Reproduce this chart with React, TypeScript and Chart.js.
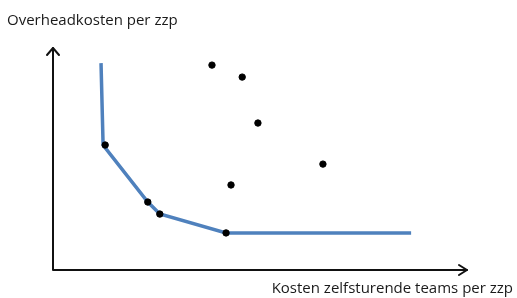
import React, { useEffect, useRef } from "react";
import { Chart, registerables } from "chart.js";

Chart.register(...registerables);

// Frontier (blue line) in cost units (0..100 on both axes)
const frontierX = [11.6, 12.1, 22.9, 25.8, 41.8, 86.5];
const frontierY = [93.2, 56.3, 30.6, 25.2, 16.7, 16.7];

// Efficient observations on the frontier
const efficientX = [12.6, 22.9, 25.8, 41.8];
const efficientY = [56.3, 30.6, 25.2, 16.7];

// Inefficient observations
const otherX = [38.4, 45.7, 49.5, 65.2, 43.0];
const otherY = [92.3, 86.9, 66.2, 47.7, 38.3];

const yAxisTitle = "Overheadkosten per zzp";
const xAxisTitle = "Kosten zelfsturende teams per zzp";

const toPoints = (xs: number[], ys: number[]) => xs.map((x, i) => ({ x, y: ys[i] }));

const arrowAxes = {
  id: "arrowAxes",
  afterDatasetsDraw(chart: any) {
    const { ctx, scales } = chart;
    const x0 = scales.x.getPixelForValue(0);
    const y0 = scales.y.getPixelForValue(0);
    const xTip = scales.x.getPixelForValue(100);
    const yTip = scales.y.getPixelForValue(100);
    ctx.save();
    ctx.strokeStyle = "#111";
    ctx.lineWidth = 2;
    ctx.lineCap = "round";
    ctx.lineJoin = "round";
    ctx.beginPath();
    ctx.moveTo(x0, yTip);
    ctx.lineTo(x0, y0);
    ctx.lineTo(xTip, y0);
    ctx.stroke();
    // y arrow head
    ctx.beginPath();
    ctx.moveTo(x0 - 6, yTip + 7);
    ctx.lineTo(x0, yTip);
    ctx.lineTo(x0 + 6, yTip + 7);
    ctx.stroke();
    // x arrow head
    ctx.beginPath();
    ctx.moveTo(xTip - 8, y0 - 5);
    ctx.lineTo(xTip, y0);
    ctx.lineTo(xTip - 8, y0 + 5);
    ctx.stroke();
    ctx.restore();
  },
};

export default function App() {
  const ref = useRef<HTMLCanvasElement | null>(null);
  useEffect(() => {
    if (!ref.current) return;
    const chart = new Chart(ref.current, {
      type: "scatter",
      data: {
        datasets: [
          {
            type: "line",
            data: toPoints(frontierX, frontierY),
            borderColor: "#4f81bd",
            borderWidth: 3.5,
            pointRadius: 0,
            tension: 0,
            fill: false,
            clip: false,
            order: 2,
          } as any,
          {
            data: toPoints(efficientX, efficientY),
            backgroundColor: "#000",
            borderColor: "#000",
            pointRadius: 3.2,
            clip: false,
            order: 1,
          } as any,
          {
            data: toPoints(otherX, otherY),
            backgroundColor: "#000",
            borderColor: "#000",
            pointRadius: 3.2,
            clip: false,
            order: 1,
          } as any,
        ],
      },
      options: {
        responsive: false,
        animation: false,
        layout: { padding: { left: 53, right: 50, top: 48, bottom: 28 } },
        plugins: { legend: { display: false }, tooltip: { enabled: false } },
        scales: {
          x: { type: "linear", min: 0, max: 100, display: false },
          y: { type: "linear", min: 0, max: 100, display: false },
        },
      },
      plugins: [arrowAxes],
    });
    return () => chart.destroy();
  }, []);

  const font = "'Open Sans', sans-serif";
  return (
    <div style={{ position: "fixed", left: 0, top: 0, width: 517, height: 298, background: "#fff" }}>
      <canvas ref={ref} width={517} height={298} style={{ position: "absolute", left: 0, top: 0 }} />
      <div style={{ position: "absolute", left: 7, top: 9, fontFamily: font, fontSize: 15, color: "#1a1a1a", whiteSpace: "nowrap", lineHeight: "20px" }}>
        {yAxisTitle}
      </div>
      <div style={{ position: "absolute", right: 4, top: 277, fontFamily: font, fontSize: 15, color: "#1a1a1a", whiteSpace: "nowrap", lineHeight: "20px" }}>
        {xAxisTitle}
      </div>
    </div>
  );
}
